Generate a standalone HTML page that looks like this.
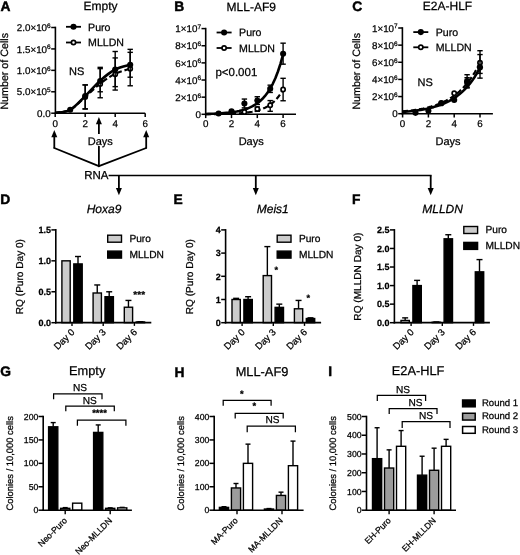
<!DOCTYPE html>
<html><head><meta charset="utf-8"><title>Figure</title>
<style>
html,body{margin:0;padding:0;background:#fff;}
svg{display:block;will-change:transform;font-family:'Liberation Sans', Arial, sans-serif;}
text{fill:#000;stroke:#000;stroke-width:0.25px;text-rendering:geometricPrecision;}
</style></head><body>
<svg width="520" height="555" viewBox="0 0 520 555">
<rect x="0" y="0" width="520" height="555" fill="#fff"/>
<text x="0.60" y="11.20" font-size="13.8" text-anchor="start" font-weight="bold" font-style="normal" style="stroke-width:0.45px">A</text>
<text x="100.50" y="9.60" font-size="12" text-anchor="middle" font-weight="normal" font-style="normal" >Empty</text>
<line x1="55.40" y1="26.70" x2="55.40" y2="114.00" stroke="#000" stroke-width="1.6" />
<line x1="54.60" y1="113.20" x2="145.20" y2="113.20" stroke="#000" stroke-width="1.6" />
<line x1="51.20" y1="27.50" x2="55.40" y2="27.50" stroke="#000" stroke-width="1.5" />
<text x="50.70" y="31.20" font-size="9.8" text-anchor="end">2.0×10<tspan font-size="6.5" dy="-3.3">6</tspan></text>
<line x1="51.20" y1="48.92" x2="55.40" y2="48.92" stroke="#000" stroke-width="1.5" />
<text x="50.70" y="52.62" font-size="9.8" text-anchor="end">1.5×10<tspan font-size="6.5" dy="-3.3">6</tspan></text>
<line x1="51.20" y1="70.35" x2="55.40" y2="70.35" stroke="#000" stroke-width="1.5" />
<text x="50.70" y="74.05" font-size="9.8" text-anchor="end">1.0×10<tspan font-size="6.5" dy="-3.3">6</tspan></text>
<line x1="51.20" y1="91.78" x2="55.40" y2="91.78" stroke="#000" stroke-width="1.5" />
<text x="50.70" y="95.48" font-size="9.8" text-anchor="end">5.0×10<tspan font-size="6.5" dy="-3.3">5</tspan></text>
<line x1="51.20" y1="113.20" x2="55.40" y2="113.20" stroke="#000" stroke-width="1.5" />
<text x="50.70" y="116.90" font-size="9.8" text-anchor="end" font-weight="normal" font-style="normal" >0.0</text>
<line x1="55.20" y1="113.20" x2="55.20" y2="117.00" stroke="#000" stroke-width="1.5" />
<text x="55.20" y="126.80" font-size="9.8" text-anchor="middle" font-weight="normal" font-style="normal" >0</text>
<line x1="85.20" y1="113.20" x2="85.20" y2="117.00" stroke="#000" stroke-width="1.5" />
<text x="85.20" y="126.80" font-size="9.8" text-anchor="middle" font-weight="normal" font-style="normal" >2</text>
<line x1="115.20" y1="113.20" x2="115.20" y2="117.00" stroke="#000" stroke-width="1.5" />
<text x="115.20" y="126.80" font-size="9.8" text-anchor="middle" font-weight="normal" font-style="normal" >4</text>
<line x1="145.20" y1="113.20" x2="145.20" y2="117.00" stroke="#000" stroke-width="1.5" />
<text x="145.20" y="126.80" font-size="9.8" text-anchor="middle" font-weight="normal" font-style="normal" >6</text>
<text x="100.30" y="145.20" font-size="11" text-anchor="middle" font-weight="normal" font-style="normal" >Days</text>
<text x="8.20" y="71.30" font-size="10.7" text-anchor="middle" font-weight="normal" font-style="normal" transform="rotate(-90 8.20 71.30)" >Number of Cells</text>
<path d="M55.20,112.77 C57.70,112.27 65.20,112.41 70.20,109.77 C75.20,107.13 80.20,101.27 85.20,96.92 C90.20,92.56 95.20,87.49 100.20,83.63 C105.20,79.78 110.20,76.28 115.20,73.78 C120.20,71.28 127.70,69.49 130.20,68.64" fill="none" stroke="#000" stroke-width="2.2" stroke-dasharray="5.5 2.8" stroke-linecap="butt"/>
<path d="M55.20,112.77 C57.70,112.27 65.20,112.56 70.20,109.77 C75.20,106.99 80.20,100.92 85.20,96.06 C90.20,91.20 95.20,85.06 100.20,80.63 C105.20,76.21 110.20,72.14 115.20,69.49 C120.20,66.85 127.70,65.57 130.20,64.78" fill="none" stroke="#000" stroke-width="2.6" stroke-linecap="butt"/>
<line x1="85.20" y1="84.92" x2="85.20" y2="108.92" stroke="#000" stroke-width="1.4" />
<line x1="82.50" y1="84.92" x2="87.90" y2="84.92" stroke="#000" stroke-width="1.4" />
<line x1="82.50" y1="108.92" x2="87.90" y2="108.92" stroke="#000" stroke-width="1.4" />
<circle cx="85.20" cy="96.92" r="2.1" fill="#fff" stroke="#000" stroke-width="1.7"/>
<line x1="100.20" y1="68.64" x2="100.20" y2="97.77" stroke="#000" stroke-width="1.4" />
<line x1="97.50" y1="68.64" x2="102.90" y2="68.64" stroke="#000" stroke-width="1.4" />
<line x1="97.50" y1="97.77" x2="102.90" y2="97.77" stroke="#000" stroke-width="1.4" />
<circle cx="100.20" cy="84.06" r="2.1" fill="#fff" stroke="#000" stroke-width="1.7"/>
<line x1="115.20" y1="57.92" x2="115.20" y2="90.06" stroke="#000" stroke-width="1.4" />
<line x1="112.50" y1="57.92" x2="117.90" y2="57.92" stroke="#000" stroke-width="1.4" />
<line x1="112.50" y1="90.06" x2="117.90" y2="90.06" stroke="#000" stroke-width="1.4" />
<circle cx="115.20" cy="74.21" r="2.1" fill="#fff" stroke="#000" stroke-width="1.7"/>
<line x1="130.20" y1="52.35" x2="130.20" y2="85.78" stroke="#000" stroke-width="1.4" />
<line x1="127.50" y1="52.35" x2="132.90" y2="52.35" stroke="#000" stroke-width="1.4" />
<line x1="127.50" y1="85.78" x2="132.90" y2="85.78" stroke="#000" stroke-width="1.4" />
<circle cx="130.20" cy="68.64" r="2.1" fill="#fff" stroke="#000" stroke-width="1.7"/>
<circle cx="70.20" cy="109.77" r="3.05" fill="#000" stroke="#000" stroke-width="0"/>
<line x1="85.20" y1="84.92" x2="85.20" y2="108.92" stroke="#000" stroke-width="1.4" />
<line x1="82.50" y1="84.92" x2="87.90" y2="84.92" stroke="#000" stroke-width="1.4" />
<line x1="82.50" y1="108.92" x2="87.90" y2="108.92" stroke="#000" stroke-width="1.4" />
<circle cx="85.20" cy="96.06" r="3.05" fill="#000" stroke="#000" stroke-width="0"/>
<line x1="100.20" y1="67.35" x2="100.20" y2="91.78" stroke="#000" stroke-width="1.4" />
<line x1="97.50" y1="67.35" x2="102.90" y2="67.35" stroke="#000" stroke-width="1.4" />
<line x1="97.50" y1="91.78" x2="102.90" y2="91.78" stroke="#000" stroke-width="1.4" />
<circle cx="100.20" cy="81.06" r="3.05" fill="#000" stroke="#000" stroke-width="0"/>
<line x1="115.20" y1="51.50" x2="115.20" y2="86.63" stroke="#000" stroke-width="1.4" />
<line x1="112.50" y1="51.50" x2="117.90" y2="51.50" stroke="#000" stroke-width="1.4" />
<line x1="112.50" y1="86.63" x2="117.90" y2="86.63" stroke="#000" stroke-width="1.4" />
<circle cx="115.20" cy="69.49" r="3.05" fill="#000" stroke="#000" stroke-width="0"/>
<line x1="130.20" y1="49.35" x2="130.20" y2="77.21" stroke="#000" stroke-width="1.4" />
<line x1="127.50" y1="49.35" x2="132.90" y2="49.35" stroke="#000" stroke-width="1.4" />
<line x1="127.50" y1="77.21" x2="132.90" y2="77.21" stroke="#000" stroke-width="1.4" />
<circle cx="130.20" cy="64.78" r="3.05" fill="#000" stroke="#000" stroke-width="0"/>
<line x1="66.00" y1="26.80" x2="81.00" y2="26.80" stroke="#000" stroke-width="1.8" />
<circle cx="73.50" cy="26.80" r="3.05" fill="#000" stroke="#000" stroke-width="0"/>
<text x="88.10" y="30.50" font-size="10.6" text-anchor="start" font-weight="normal" font-style="normal" >Puro</text>
<line x1="66.00" y1="42.50" x2="81.00" y2="42.50" stroke="#000" stroke-width="1.8" />
<circle cx="73.50" cy="42.50" r="2.1" fill="#fff" stroke="#000" stroke-width="1.7"/>
<text x="88.10" y="46.20" font-size="10.6" text-anchor="start" font-weight="normal" font-style="normal" >MLLDN</text>
<text x="69.00" y="74.60" font-size="11" text-anchor="start" font-weight="normal" font-style="normal" >NS</text>
<text x="174.30" y="10.70" font-size="13.8" text-anchor="start" font-weight="bold" font-style="normal" style="stroke-width:0.45px">B</text>
<text x="251.30" y="10.70" font-size="12" text-anchor="middle" font-weight="normal" font-style="normal" >MLL-AF9</text>
<line x1="205.70" y1="27.80" x2="205.70" y2="115.10" stroke="#000" stroke-width="1.6" />
<line x1="204.90" y1="114.30" x2="296.00" y2="114.30" stroke="#000" stroke-width="1.6" />
<line x1="201.50" y1="28.60" x2="205.70" y2="28.60" stroke="#000" stroke-width="1.5" />
<text x="201.00" y="32.30" font-size="9.8" text-anchor="end">1×10<tspan font-size="6.5" dy="-3.3">7</tspan></text>
<line x1="201.50" y1="45.74" x2="205.70" y2="45.74" stroke="#000" stroke-width="1.5" />
<text x="201.00" y="49.44" font-size="9.8" text-anchor="end">8×10<tspan font-size="6.5" dy="-3.3">6</tspan></text>
<line x1="201.50" y1="62.88" x2="205.70" y2="62.88" stroke="#000" stroke-width="1.5" />
<text x="201.00" y="66.58" font-size="9.8" text-anchor="end">6×10<tspan font-size="6.5" dy="-3.3">6</tspan></text>
<line x1="201.50" y1="80.02" x2="205.70" y2="80.02" stroke="#000" stroke-width="1.5" />
<text x="201.00" y="83.72" font-size="9.8" text-anchor="end">4×10<tspan font-size="6.5" dy="-3.3">6</tspan></text>
<line x1="201.50" y1="97.16" x2="205.70" y2="97.16" stroke="#000" stroke-width="1.5" />
<text x="201.00" y="100.86" font-size="9.8" text-anchor="end">2×10<tspan font-size="6.5" dy="-3.3">6</tspan></text>
<line x1="201.50" y1="114.30" x2="205.70" y2="114.30" stroke="#000" stroke-width="1.5" />
<text x="201.00" y="118.00" font-size="9.8" text-anchor="end" font-weight="normal" font-style="normal" >0</text>
<line x1="205.70" y1="114.30" x2="205.70" y2="118.10" stroke="#000" stroke-width="1.5" />
<text x="205.70" y="126.80" font-size="9.8" text-anchor="middle" font-weight="normal" font-style="normal" >0</text>
<line x1="231.50" y1="114.30" x2="231.50" y2="118.10" stroke="#000" stroke-width="1.5" />
<text x="231.50" y="126.80" font-size="9.8" text-anchor="middle" font-weight="normal" font-style="normal" >2</text>
<line x1="257.30" y1="114.30" x2="257.30" y2="118.10" stroke="#000" stroke-width="1.5" />
<text x="257.30" y="126.80" font-size="9.8" text-anchor="middle" font-weight="normal" font-style="normal" >4</text>
<line x1="283.10" y1="114.30" x2="283.10" y2="118.10" stroke="#000" stroke-width="1.5" />
<text x="283.10" y="126.80" font-size="9.8" text-anchor="middle" font-weight="normal" font-style="normal" >6</text>
<text x="251.20" y="145.20" font-size="11" text-anchor="middle" font-weight="normal" font-style="normal" >Days</text>
<polyline points="205.70,114.22 208.28,114.20 210.86,114.18 213.44,114.15 216.02,114.12 218.60,114.09 221.18,114.04 223.76,113.99 226.34,113.92 228.92,113.84 231.50,113.74 234.08,113.63 236.66,113.49 239.24,113.32 241.82,113.11 244.40,112.86 246.98,112.56 249.56,112.20 252.14,111.76 254.72,111.23 257.30,110.58 259.88,109.81 262.46,108.87 265.04,107.73 267.62,106.35 270.20,104.69 272.78,102.68 275.36,100.25 277.94,97.31 280.52,93.75 283.10,89.46" fill="none" stroke="#000" stroke-width="2.2" stroke-dasharray="5.5 2.8" stroke-linejoin="round"/>
<polyline points="205.70,113.93 208.28,113.86 210.86,113.78 213.44,113.68 216.02,113.57 218.60,113.43 221.18,113.27 223.76,113.08 226.34,112.85 228.92,112.59 231.50,112.27 234.08,111.90 236.66,111.45 239.24,110.93 241.82,110.31 244.40,109.57 246.98,108.69 249.56,107.66 252.14,106.43 254.72,104.98 257.30,103.26 259.88,101.23 262.46,98.81 265.04,95.95 267.62,92.57 270.20,88.55 272.78,83.80 275.36,78.17 277.94,71.50 280.52,63.60 283.10,54.24" fill="none" stroke="#000" stroke-width="2.6" stroke-linejoin="round"/>
<circle cx="244.40" cy="111.99" r="2.1" fill="#fff" stroke="#000" stroke-width="1.7"/>
<line x1="257.30" y1="107.02" x2="257.30" y2="111.30" stroke="#000" stroke-width="1.4" />
<line x1="254.60" y1="107.02" x2="260.00" y2="107.02" stroke="#000" stroke-width="1.4" />
<line x1="254.60" y1="111.30" x2="260.00" y2="111.30" stroke="#000" stroke-width="1.4" />
<circle cx="257.30" cy="108.99" r="2.1" fill="#fff" stroke="#000" stroke-width="1.7"/>
<line x1="270.20" y1="100.59" x2="270.20" y2="111.30" stroke="#000" stroke-width="1.4" />
<line x1="267.50" y1="100.59" x2="272.90" y2="100.59" stroke="#000" stroke-width="1.4" />
<line x1="267.50" y1="111.30" x2="272.90" y2="111.30" stroke="#000" stroke-width="1.4" />
<circle cx="270.20" cy="105.30" r="2.1" fill="#fff" stroke="#000" stroke-width="1.7"/>
<line x1="283.10" y1="78.31" x2="283.10" y2="100.76" stroke="#000" stroke-width="1.4" />
<line x1="280.40" y1="78.31" x2="285.80" y2="78.31" stroke="#000" stroke-width="1.4" />
<line x1="280.40" y1="100.76" x2="285.80" y2="100.76" stroke="#000" stroke-width="1.4" />
<circle cx="283.10" cy="89.45" r="2.1" fill="#fff" stroke="#000" stroke-width="1.7"/>
<circle cx="218.60" cy="113.44" r="3.05" fill="#000" stroke="#000" stroke-width="0"/>
<circle cx="231.50" cy="111.30" r="3.05" fill="#000" stroke="#000" stroke-width="0"/>
<line x1="244.40" y1="99.05" x2="244.40" y2="107.87" stroke="#000" stroke-width="1.4" />
<line x1="241.70" y1="99.05" x2="247.10" y2="99.05" stroke="#000" stroke-width="1.4" />
<line x1="241.70" y1="107.87" x2="247.10" y2="107.87" stroke="#000" stroke-width="1.4" />
<circle cx="244.40" cy="103.59" r="3.05" fill="#000" stroke="#000" stroke-width="0"/>
<line x1="257.30" y1="96.73" x2="257.30" y2="104.44" stroke="#000" stroke-width="1.4" />
<line x1="254.60" y1="96.73" x2="260.00" y2="96.73" stroke="#000" stroke-width="1.4" />
<line x1="254.60" y1="104.44" x2="260.00" y2="104.44" stroke="#000" stroke-width="1.4" />
<circle cx="257.30" cy="100.59" r="3.05" fill="#000" stroke="#000" stroke-width="0"/>
<line x1="270.20" y1="85.16" x2="270.20" y2="92.45" stroke="#000" stroke-width="1.4" />
<line x1="267.50" y1="85.16" x2="272.90" y2="85.16" stroke="#000" stroke-width="1.4" />
<line x1="267.50" y1="92.45" x2="272.90" y2="92.45" stroke="#000" stroke-width="1.4" />
<circle cx="270.20" cy="88.76" r="3.05" fill="#000" stroke="#000" stroke-width="0"/>
<line x1="283.10" y1="43.17" x2="283.10" y2="64.17" stroke="#000" stroke-width="1.4" />
<line x1="280.40" y1="43.17" x2="285.80" y2="43.17" stroke="#000" stroke-width="1.4" />
<line x1="280.40" y1="64.17" x2="285.80" y2="64.17" stroke="#000" stroke-width="1.4" />
<circle cx="283.10" cy="53.71" r="3.05" fill="#000" stroke="#000" stroke-width="0"/>
<line x1="216.60" y1="32.50" x2="231.60" y2="32.50" stroke="#000" stroke-width="1.8" />
<circle cx="224.10" cy="32.50" r="3.05" fill="#000" stroke="#000" stroke-width="0"/>
<text x="239.10" y="36.20" font-size="10.6" text-anchor="start" font-weight="normal" font-style="normal" >Puro</text>
<line x1="216.60" y1="48.00" x2="231.60" y2="48.00" stroke="#000" stroke-width="1.8" />
<circle cx="224.10" cy="48.00" r="2.1" fill="#fff" stroke="#000" stroke-width="1.7"/>
<text x="239.10" y="51.70" font-size="10.6" text-anchor="start" font-weight="normal" font-style="normal" >MLLDN</text>
<text x="215.40" y="75.80" font-size="11.5" text-anchor="start" font-weight="normal" font-style="normal" >p&lt;0.001</text>
<text x="352.30" y="11.20" font-size="13.8" text-anchor="start" font-weight="bold" font-style="normal" style="stroke-width:0.45px">C</text>
<text x="447.50" y="10.40" font-size="12" text-anchor="middle" font-weight="normal" font-style="normal" >E2A-HLF</text>
<line x1="402.40" y1="27.20" x2="402.40" y2="114.50" stroke="#000" stroke-width="1.6" />
<line x1="401.60" y1="113.70" x2="492.90" y2="113.70" stroke="#000" stroke-width="1.6" />
<line x1="398.20" y1="28.00" x2="402.40" y2="28.00" stroke="#000" stroke-width="1.5" />
<text x="397.70" y="31.70" font-size="9.8" text-anchor="end">1×10<tspan font-size="6.5" dy="-3.3">7</tspan></text>
<line x1="398.20" y1="45.14" x2="402.40" y2="45.14" stroke="#000" stroke-width="1.5" />
<text x="397.70" y="48.84" font-size="9.8" text-anchor="end">8×10<tspan font-size="6.5" dy="-3.3">6</tspan></text>
<line x1="398.20" y1="62.28" x2="402.40" y2="62.28" stroke="#000" stroke-width="1.5" />
<text x="397.70" y="65.98" font-size="9.8" text-anchor="end">6×10<tspan font-size="6.5" dy="-3.3">6</tspan></text>
<line x1="398.20" y1="79.42" x2="402.40" y2="79.42" stroke="#000" stroke-width="1.5" />
<text x="397.70" y="83.12" font-size="9.8" text-anchor="end">4×10<tspan font-size="6.5" dy="-3.3">6</tspan></text>
<line x1="398.20" y1="96.56" x2="402.40" y2="96.56" stroke="#000" stroke-width="1.5" />
<text x="397.70" y="100.26" font-size="9.8" text-anchor="end">2×10<tspan font-size="6.5" dy="-3.3">6</tspan></text>
<line x1="398.20" y1="113.70" x2="402.40" y2="113.70" stroke="#000" stroke-width="1.5" />
<text x="397.70" y="117.40" font-size="9.8" text-anchor="end" font-weight="normal" font-style="normal" >0</text>
<line x1="402.60" y1="113.70" x2="402.60" y2="117.50" stroke="#000" stroke-width="1.5" />
<text x="402.60" y="126.80" font-size="9.8" text-anchor="middle" font-weight="normal" font-style="normal" >0</text>
<line x1="428.40" y1="113.70" x2="428.40" y2="117.50" stroke="#000" stroke-width="1.5" />
<text x="428.40" y="126.80" font-size="9.8" text-anchor="middle" font-weight="normal" font-style="normal" >2</text>
<line x1="454.20" y1="113.70" x2="454.20" y2="117.50" stroke="#000" stroke-width="1.5" />
<text x="454.20" y="126.80" font-size="9.8" text-anchor="middle" font-weight="normal" font-style="normal" >4</text>
<line x1="480.00" y1="113.70" x2="480.00" y2="117.50" stroke="#000" stroke-width="1.5" />
<text x="480.00" y="126.80" font-size="9.8" text-anchor="middle" font-weight="normal" font-style="normal" >6</text>
<text x="448.00" y="145.20" font-size="11" text-anchor="middle" font-weight="normal" font-style="normal" >Days</text>
<text x="360.50" y="71.30" font-size="10.7" text-anchor="middle" font-weight="normal" font-style="normal" transform="rotate(-90 360.50 71.30)" >Number of Cells</text>
<polyline points="402.60,111.45 405.18,111.20 407.76,110.92 410.34,110.62 412.92,110.28 415.50,109.91 418.08,109.49 420.66,109.03 423.24,108.52 425.82,107.95 428.40,107.32 430.98,106.62 433.56,105.85 436.14,104.99 438.72,104.03 441.30,102.97 443.88,101.80 446.46,100.49 449.04,99.05 451.62,97.44 454.20,95.66 456.78,93.68 459.36,91.49 461.94,89.05 464.52,86.35 467.10,83.35 469.68,80.03 472.26,76.34 474.84,72.24 477.42,67.70 480.00,62.66" fill="none" stroke="#000" stroke-width="2.2" stroke-dasharray="5.5 2.8" stroke-linejoin="round"/>
<polyline points="402.60,111.90 405.18,111.70 407.76,111.47 410.34,111.21 412.92,110.93 415.50,110.61 418.08,110.26 420.66,109.87 423.24,109.43 425.82,108.94 428.40,108.40 430.98,107.80 433.56,107.12 436.14,106.37 438.72,105.54 441.30,104.61 443.88,103.57 446.46,102.41 449.04,101.13 451.62,99.69 454.20,98.09 456.78,96.31 459.36,94.33 461.94,92.12 464.52,89.66 467.10,86.92 469.68,83.87 472.26,80.46 474.84,76.67 477.42,72.45 480.00,67.75" fill="none" stroke="#000" stroke-width="2.6" stroke-linejoin="round"/>
<circle cx="441.30" cy="103.42" r="2.1" fill="#fff" stroke="#000" stroke-width="1.7"/>
<circle cx="454.20" cy="93.13" r="2.1" fill="#fff" stroke="#000" stroke-width="1.7"/>
<line x1="467.10" y1="77.71" x2="467.10" y2="87.99" stroke="#000" stroke-width="1.4" />
<line x1="464.40" y1="77.71" x2="469.80" y2="77.71" stroke="#000" stroke-width="1.4" />
<line x1="464.40" y1="87.99" x2="469.80" y2="87.99" stroke="#000" stroke-width="1.4" />
<circle cx="467.10" cy="82.85" r="2.1" fill="#fff" stroke="#000" stroke-width="1.7"/>
<line x1="480.00" y1="50.71" x2="480.00" y2="73.42" stroke="#000" stroke-width="1.4" />
<line x1="477.30" y1="50.71" x2="482.70" y2="50.71" stroke="#000" stroke-width="1.4" />
<line x1="477.30" y1="73.42" x2="482.70" y2="73.42" stroke="#000" stroke-width="1.4" />
<circle cx="480.00" cy="62.71" r="2.1" fill="#fff" stroke="#000" stroke-width="1.7"/>
<circle cx="415.50" cy="112.84" r="3.05" fill="#000" stroke="#000" stroke-width="0"/>
<circle cx="428.40" cy="110.70" r="3.05" fill="#000" stroke="#000" stroke-width="0"/>
<circle cx="441.30" cy="102.99" r="3.05" fill="#000" stroke="#000" stroke-width="0"/>
<circle cx="454.20" cy="99.99" r="3.05" fill="#000" stroke="#000" stroke-width="0"/>
<line x1="467.10" y1="74.71" x2="467.10" y2="87.13" stroke="#000" stroke-width="1.4" />
<line x1="464.40" y1="74.71" x2="469.80" y2="74.71" stroke="#000" stroke-width="1.4" />
<line x1="464.40" y1="87.13" x2="469.80" y2="87.13" stroke="#000" stroke-width="1.4" />
<circle cx="467.10" cy="81.13" r="3.05" fill="#000" stroke="#000" stroke-width="0"/>
<line x1="480.00" y1="54.57" x2="480.00" y2="78.13" stroke="#000" stroke-width="1.4" />
<line x1="477.30" y1="54.57" x2="482.70" y2="54.57" stroke="#000" stroke-width="1.4" />
<line x1="477.30" y1="78.13" x2="482.70" y2="78.13" stroke="#000" stroke-width="1.4" />
<circle cx="480.00" cy="67.42" r="3.05" fill="#000" stroke="#000" stroke-width="0"/>
<line x1="413.30" y1="32.10" x2="428.30" y2="32.10" stroke="#000" stroke-width="1.8" />
<circle cx="420.80" cy="32.10" r="3.05" fill="#000" stroke="#000" stroke-width="0"/>
<text x="435.80" y="35.80" font-size="10.6" text-anchor="start" font-weight="normal" font-style="normal" >Puro</text>
<line x1="413.30" y1="47.30" x2="428.30" y2="47.30" stroke="#000" stroke-width="1.8" />
<circle cx="420.80" cy="47.30" r="2.1" fill="#fff" stroke="#000" stroke-width="1.7"/>
<text x="435.80" y="51.00" font-size="10.6" text-anchor="start" font-weight="normal" font-style="normal" >MLLDN</text>
<text x="417.50" y="86.30" font-size="11" text-anchor="start" font-weight="normal" font-style="normal" >NS</text>
<line x1="54.30" y1="148.40" x2="54.30" y2="136.30" stroke="#000" stroke-width="1.8" />
<polygon points="54.30,130.00 51.30,137.30 57.30,137.30" fill="#000"/>
<line x1="54.30" y1="148.00" x2="98.90" y2="166.20" stroke="#000" stroke-width="1.8" stroke-linecap="round"/>
<line x1="146.20" y1="148.40" x2="146.20" y2="136.30" stroke="#000" stroke-width="1.8" />
<polygon points="146.20,130.00 143.20,137.30 149.20,137.30" fill="#000"/>
<line x1="146.20" y1="148.00" x2="98.90" y2="166.20" stroke="#000" stroke-width="1.8" stroke-linecap="round"/>
<line x1="98.90" y1="133.90" x2="98.90" y2="123.30" stroke="#000" stroke-width="1.8" />
<polygon points="98.90,117.00 95.90,124.30 101.90,124.30" fill="#000"/>
<line x1="98.90" y1="146.00" x2="98.90" y2="166.40" stroke="#000" stroke-width="1.8" />
<text x="96.30" y="178.70" font-size="11.5" text-anchor="middle" font-weight="normal" font-style="normal" >RNA</text>
<line x1="108.60" y1="175.50" x2="431.60" y2="175.50" stroke="#000" stroke-width="1.6" />
<line x1="118.90" y1="175.50" x2="118.90" y2="189.00" stroke="#000" stroke-width="1.8" />
<polygon points="118.90,195.30 115.90,188.00 121.90,188.00" fill="#000"/>
<line x1="255.80" y1="175.50" x2="255.80" y2="189.00" stroke="#000" stroke-width="1.8" />
<polygon points="255.80,195.30 252.80,188.00 258.80,188.00" fill="#000"/>
<line x1="430.70" y1="175.50" x2="430.70" y2="189.00" stroke="#000" stroke-width="1.8" />
<polygon points="430.70,195.30 427.70,188.00 433.70,188.00" fill="#000"/>
<text x="0.30" y="204.00" font-size="13.8" text-anchor="start" font-weight="bold" font-style="normal" style="stroke-width:0.45px">D</text>
<text x="104.00" y="212.90" font-size="12" text-anchor="middle" font-weight="normal" font-style="italic" >Hoxa9</text>
<line x1="51.40" y1="322.70" x2="55.80" y2="322.70" stroke="#000" stroke-width="1.5" />
<text x="51.00" y="325.90" font-size="9" text-anchor="end" font-weight="bold" font-style="normal" >0.0</text>
<line x1="51.40" y1="291.77" x2="55.80" y2="291.77" stroke="#000" stroke-width="1.5" />
<text x="51.00" y="294.97" font-size="9" text-anchor="end" font-weight="bold" font-style="normal" >0.5</text>
<line x1="51.40" y1="260.83" x2="55.80" y2="260.83" stroke="#000" stroke-width="1.5" />
<text x="51.00" y="264.03" font-size="9" text-anchor="end" font-weight="bold" font-style="normal" >1.0</text>
<line x1="51.40" y1="229.90" x2="55.80" y2="229.90" stroke="#000" stroke-width="1.5" />
<text x="51.00" y="233.10" font-size="9" text-anchor="end" font-weight="bold" font-style="normal" >1.5</text>
<text x="22.80" y="276.60" font-size="10.1" text-anchor="middle" font-weight="normal" font-style="normal" transform="rotate(-90 22.80 276.60)" >RQ (Puro Day 0)</text>
<rect x="61.90" y="260.83" width="8.30" height="61.87" fill="#ccc" stroke="#000" stroke-width="1.4"/>
<line x1="78.00" y1="263.93" x2="78.00" y2="256.50" stroke="#000" stroke-width="1.4" />
<line x1="75.00" y1="256.50" x2="81.00" y2="256.50" stroke="#000" stroke-width="1.4" />
<rect x="73.80" y="263.93" width="8.40" height="58.77" fill="#000" stroke="#000" stroke-width="1.4"/>
<line x1="72.00" y1="322.70" x2="72.00" y2="325.90" stroke="#000" stroke-width="1.4" />
<text x="75.30" y="332.80" font-size="9.5" text-anchor="end" font-weight="normal" font-style="normal" transform="rotate(-45 75.30 332.80)" >Day 0</text>
<line x1="97.25" y1="293.00" x2="97.25" y2="284.96" stroke="#000" stroke-width="1.4" />
<line x1="94.25" y1="284.96" x2="100.25" y2="284.96" stroke="#000" stroke-width="1.4" />
<rect x="93.10" y="293.00" width="8.30" height="29.70" fill="#ccc" stroke="#000" stroke-width="1.4"/>
<line x1="109.20" y1="296.72" x2="109.20" y2="291.77" stroke="#000" stroke-width="1.4" />
<line x1="106.20" y1="291.77" x2="112.20" y2="291.77" stroke="#000" stroke-width="1.4" />
<rect x="105.00" y="296.72" width="8.40" height="25.98" fill="#000" stroke="#000" stroke-width="1.4"/>
<line x1="103.20" y1="322.70" x2="103.20" y2="325.90" stroke="#000" stroke-width="1.4" />
<text x="106.50" y="332.80" font-size="9.5" text-anchor="end" font-weight="normal" font-style="normal" transform="rotate(-45 106.50 332.80)" >Day 3</text>
<line x1="128.45" y1="307.23" x2="128.45" y2="300.43" stroke="#000" stroke-width="1.4" />
<line x1="125.45" y1="300.43" x2="131.45" y2="300.43" stroke="#000" stroke-width="1.4" />
<rect x="124.30" y="307.23" width="8.30" height="15.47" fill="#ccc" stroke="#000" stroke-width="1.4"/>
<line x1="140.40" y1="321.96" x2="140.40" y2="321.71" stroke="#000" stroke-width="1.4" />
<line x1="137.40" y1="321.71" x2="143.40" y2="321.71" stroke="#000" stroke-width="1.4" />
<rect x="136.20" y="321.96" width="8.40" height="0.74" fill="#000" stroke="#000" stroke-width="1.4"/>
<line x1="134.40" y1="322.70" x2="134.40" y2="325.90" stroke="#000" stroke-width="1.4" />
<text x="137.70" y="332.80" font-size="9.5" text-anchor="end" font-weight="normal" font-style="normal" transform="rotate(-45 137.70 332.80)" >Day 6</text>
<line x1="55.80" y1="229.10" x2="55.80" y2="323.50" stroke="#000" stroke-width="1.6" />
<line x1="55.00" y1="322.70" x2="151.30" y2="322.70" stroke="#000" stroke-width="1.7" />
<text x="139.20" y="298.40" font-size="10" text-anchor="middle" font-weight="bold" font-style="normal" >***</text>
<rect x="107.70" y="235.20" width="13.80" height="7.00" fill="#ccc" stroke="#000" stroke-width="1.4"/>
<text x="129.40" y="242.10" font-size="10.2" text-anchor="start" font-weight="normal" font-style="normal" >Puro</text>
<rect x="107.70" y="251.10" width="13.80" height="7.00" fill="#000" stroke="#000" stroke-width="1.4"/>
<text x="129.40" y="258.00" font-size="10.2" text-anchor="start" font-weight="normal" font-style="normal" >MLLDN</text>
<text x="173.60" y="204.00" font-size="13.8" text-anchor="start" font-weight="bold" font-style="normal" style="stroke-width:0.45px">E</text>
<text x="272.80" y="212.90" font-size="12" text-anchor="middle" font-weight="normal" font-style="italic" >Meis1</text>
<line x1="221.20" y1="322.70" x2="225.60" y2="322.70" stroke="#000" stroke-width="1.5" />
<text x="220.80" y="325.90" font-size="9" text-anchor="end" font-weight="bold" font-style="normal" >0</text>
<line x1="221.20" y1="299.50" x2="225.60" y2="299.50" stroke="#000" stroke-width="1.5" />
<text x="220.80" y="302.70" font-size="9" text-anchor="end" font-weight="bold" font-style="normal" >1</text>
<line x1="221.20" y1="276.30" x2="225.60" y2="276.30" stroke="#000" stroke-width="1.5" />
<text x="220.80" y="279.50" font-size="9" text-anchor="end" font-weight="bold" font-style="normal" >2</text>
<line x1="221.20" y1="253.10" x2="225.60" y2="253.10" stroke="#000" stroke-width="1.5" />
<text x="220.80" y="256.30" font-size="9" text-anchor="end" font-weight="bold" font-style="normal" >3</text>
<line x1="221.20" y1="229.90" x2="225.60" y2="229.90" stroke="#000" stroke-width="1.5" />
<text x="220.80" y="233.10" font-size="9" text-anchor="end" font-weight="bold" font-style="normal" >4</text>
<text x="192.60" y="276.60" font-size="10.1" text-anchor="middle" font-weight="normal" font-style="normal" transform="rotate(-90 192.60 276.60)" >RQ (Puro Day 0)</text>
<line x1="236.15" y1="299.50" x2="236.15" y2="298.34" stroke="#000" stroke-width="1.4" />
<line x1="233.15" y1="298.34" x2="239.15" y2="298.34" stroke="#000" stroke-width="1.4" />
<rect x="232.00" y="299.50" width="8.30" height="23.20" fill="#ccc" stroke="#000" stroke-width="1.4"/>
<line x1="248.10" y1="299.50" x2="248.10" y2="296.72" stroke="#000" stroke-width="1.4" />
<line x1="245.10" y1="296.72" x2="251.10" y2="296.72" stroke="#000" stroke-width="1.4" />
<rect x="243.90" y="299.50" width="8.40" height="23.20" fill="#000" stroke="#000" stroke-width="1.4"/>
<line x1="242.10" y1="322.70" x2="242.10" y2="325.90" stroke="#000" stroke-width="1.4" />
<text x="245.40" y="332.80" font-size="9.5" text-anchor="end" font-weight="normal" font-style="normal" transform="rotate(-45 245.40 332.80)" >Day 0</text>
<line x1="267.35" y1="275.60" x2="267.35" y2="246.60" stroke="#000" stroke-width="1.4" />
<line x1="264.35" y1="246.60" x2="270.35" y2="246.60" stroke="#000" stroke-width="1.4" />
<rect x="263.20" y="275.60" width="8.30" height="47.10" fill="#ccc" stroke="#000" stroke-width="1.4"/>
<line x1="279.30" y1="307.39" x2="279.30" y2="304.14" stroke="#000" stroke-width="1.4" />
<line x1="276.30" y1="304.14" x2="282.30" y2="304.14" stroke="#000" stroke-width="1.4" />
<rect x="275.10" y="307.39" width="8.40" height="15.31" fill="#000" stroke="#000" stroke-width="1.4"/>
<line x1="273.30" y1="322.70" x2="273.30" y2="325.90" stroke="#000" stroke-width="1.4" />
<text x="276.60" y="332.80" font-size="9.5" text-anchor="end" font-weight="normal" font-style="normal" transform="rotate(-45 276.60 332.80)" >Day 3</text>
<line x1="298.55" y1="308.78" x2="298.55" y2="300.43" stroke="#000" stroke-width="1.4" />
<line x1="295.55" y1="300.43" x2="301.55" y2="300.43" stroke="#000" stroke-width="1.4" />
<rect x="294.40" y="308.78" width="8.30" height="13.92" fill="#ccc" stroke="#000" stroke-width="1.4"/>
<line x1="310.50" y1="318.52" x2="310.50" y2="317.83" stroke="#000" stroke-width="1.4" />
<line x1="307.50" y1="317.83" x2="313.50" y2="317.83" stroke="#000" stroke-width="1.4" />
<rect x="306.30" y="318.52" width="8.40" height="4.18" fill="#000" stroke="#000" stroke-width="1.4"/>
<line x1="304.50" y1="322.70" x2="304.50" y2="325.90" stroke="#000" stroke-width="1.4" />
<text x="307.80" y="332.80" font-size="9.5" text-anchor="end" font-weight="normal" font-style="normal" transform="rotate(-45 307.80 332.80)" >Day 6</text>
<line x1="225.60" y1="229.10" x2="225.60" y2="323.50" stroke="#000" stroke-width="1.6" />
<line x1="224.80" y1="322.70" x2="321.10" y2="322.70" stroke="#000" stroke-width="1.7" />
<text x="276.40" y="273.40" font-size="9.2" text-anchor="middle" font-weight="bold" font-style="normal" >*</text>
<text x="308.20" y="300.90" font-size="9.2" text-anchor="middle" font-weight="bold" font-style="normal" >*</text>
<rect x="277.20" y="235.20" width="13.80" height="7.00" fill="#ccc" stroke="#000" stroke-width="1.4"/>
<text x="298.90" y="242.10" font-size="10.2" text-anchor="start" font-weight="normal" font-style="normal" >Puro</text>
<rect x="277.20" y="251.10" width="13.80" height="7.00" fill="#000" stroke="#000" stroke-width="1.4"/>
<text x="298.90" y="258.00" font-size="10.2" text-anchor="start" font-weight="normal" font-style="normal" >MLLDN</text>
<text x="352.00" y="204.00" font-size="13.8" text-anchor="start" font-weight="bold" font-style="normal" style="stroke-width:0.45px">F</text>
<text x="442.60" y="212.90" font-size="12" text-anchor="middle" font-weight="normal" font-style="italic" >MLLDN</text>
<line x1="390.00" y1="322.70" x2="394.40" y2="322.70" stroke="#000" stroke-width="1.5" />
<text x="389.60" y="325.90" font-size="9" text-anchor="end" font-weight="bold" font-style="normal" >0.0</text>
<line x1="390.00" y1="304.14" x2="394.40" y2="304.14" stroke="#000" stroke-width="1.5" />
<text x="389.60" y="307.34" font-size="9" text-anchor="end" font-weight="bold" font-style="normal" >0.5</text>
<line x1="390.00" y1="285.58" x2="394.40" y2="285.58" stroke="#000" stroke-width="1.5" />
<text x="389.60" y="288.78" font-size="9" text-anchor="end" font-weight="bold" font-style="normal" >1.0</text>
<line x1="390.00" y1="267.02" x2="394.40" y2="267.02" stroke="#000" stroke-width="1.5" />
<text x="389.60" y="270.22" font-size="9" text-anchor="end" font-weight="bold" font-style="normal" >1.5</text>
<line x1="390.00" y1="248.46" x2="394.40" y2="248.46" stroke="#000" stroke-width="1.5" />
<text x="389.60" y="251.66" font-size="9" text-anchor="end" font-weight="bold" font-style="normal" >2.0</text>
<line x1="390.00" y1="229.90" x2="394.40" y2="229.90" stroke="#000" stroke-width="1.5" />
<text x="389.60" y="233.10" font-size="9" text-anchor="end" font-weight="bold" font-style="normal" >2.5</text>
<text x="361.40" y="276.60" font-size="10.1" text-anchor="middle" font-weight="normal" font-style="normal" transform="rotate(-90 361.40 276.60)" >RQ (MLLDN Day 0)</text>
<line x1="405.15" y1="320.47" x2="405.15" y2="317.87" stroke="#000" stroke-width="1.4" />
<line x1="402.15" y1="317.87" x2="408.15" y2="317.87" stroke="#000" stroke-width="1.4" />
<rect x="401.00" y="320.47" width="8.30" height="2.23" fill="#ccc" stroke="#000" stroke-width="1.4"/>
<line x1="417.10" y1="285.58" x2="417.10" y2="280.38" stroke="#000" stroke-width="1.4" />
<line x1="414.10" y1="280.38" x2="420.10" y2="280.38" stroke="#000" stroke-width="1.4" />
<rect x="412.90" y="285.58" width="8.40" height="37.12" fill="#000" stroke="#000" stroke-width="1.4"/>
<line x1="411.10" y1="322.70" x2="411.10" y2="325.90" stroke="#000" stroke-width="1.4" />
<text x="414.40" y="332.80" font-size="9.5" text-anchor="end" font-weight="normal" font-style="normal" transform="rotate(-45 414.40 332.80)" >Day 0</text>
<line x1="436.35" y1="322.25" x2="436.35" y2="321.96" stroke="#000" stroke-width="1.4" />
<line x1="433.35" y1="321.96" x2="439.35" y2="321.96" stroke="#000" stroke-width="1.4" />
<rect x="432.20" y="322.25" width="8.30" height="0.45" fill="#ccc" stroke="#000" stroke-width="1.4"/>
<line x1="448.30" y1="238.81" x2="448.30" y2="234.73" stroke="#000" stroke-width="1.4" />
<line x1="445.30" y1="234.73" x2="451.30" y2="234.73" stroke="#000" stroke-width="1.4" />
<rect x="444.10" y="238.81" width="8.40" height="83.89" fill="#000" stroke="#000" stroke-width="1.4"/>
<line x1="442.30" y1="322.70" x2="442.30" y2="325.90" stroke="#000" stroke-width="1.4" />
<text x="445.60" y="332.80" font-size="9.5" text-anchor="end" font-weight="normal" font-style="normal" transform="rotate(-45 445.60 332.80)" >Day 3</text>
<rect x="463.40" y="322.70" width="8.30" height="0.00" fill="#ccc" stroke="#000" stroke-width="1.4"/>
<line x1="479.50" y1="271.85" x2="479.50" y2="259.60" stroke="#000" stroke-width="1.4" />
<line x1="476.50" y1="259.60" x2="482.50" y2="259.60" stroke="#000" stroke-width="1.4" />
<rect x="475.30" y="271.85" width="8.40" height="50.85" fill="#000" stroke="#000" stroke-width="1.4"/>
<line x1="473.50" y1="322.70" x2="473.50" y2="325.90" stroke="#000" stroke-width="1.4" />
<text x="476.80" y="332.80" font-size="9.5" text-anchor="end" font-weight="normal" font-style="normal" transform="rotate(-45 476.80 332.80)" >Day 6</text>
<line x1="394.40" y1="229.10" x2="394.40" y2="323.50" stroke="#000" stroke-width="1.6" />
<line x1="393.60" y1="322.70" x2="489.90" y2="322.70" stroke="#000" stroke-width="1.7" />
<rect x="463.80" y="226.50" width="13.80" height="7.00" fill="#ccc" stroke="#000" stroke-width="1.4"/>
<text x="485.50" y="233.40" font-size="10.2" text-anchor="start" font-weight="normal" font-style="normal" >Puro</text>
<rect x="463.80" y="242.40" width="13.80" height="7.00" fill="#000" stroke="#000" stroke-width="1.4"/>
<text x="485.50" y="249.30" font-size="10.2" text-anchor="start" font-weight="normal" font-style="normal" >MLLDN</text>
<text x="0.30" y="376.40" font-size="13.8" text-anchor="start" font-weight="bold" font-style="normal" style="stroke-width:0.45px">G</text>
<text x="87.20" y="375.40" font-size="12.8" text-anchor="middle" font-weight="normal" font-style="normal" >Empty</text>
<line x1="38.50" y1="510.20" x2="43.20" y2="510.20" stroke="#000" stroke-width="1.5" />
<text x="38.30" y="513.30" font-size="8.7" text-anchor="end" font-weight="normal" font-style="normal" >0</text>
<line x1="38.50" y1="486.77" x2="43.20" y2="486.77" stroke="#000" stroke-width="1.5" />
<text x="38.30" y="489.88" font-size="8.7" text-anchor="end" font-weight="normal" font-style="normal" >50</text>
<line x1="38.50" y1="463.35" x2="43.20" y2="463.35" stroke="#000" stroke-width="1.5" />
<text x="38.30" y="466.45" font-size="8.7" text-anchor="end" font-weight="normal" font-style="normal" >100</text>
<line x1="38.50" y1="439.93" x2="43.20" y2="439.93" stroke="#000" stroke-width="1.5" />
<text x="38.30" y="443.03" font-size="8.7" text-anchor="end" font-weight="normal" font-style="normal" >150</text>
<line x1="38.50" y1="416.50" x2="43.20" y2="416.50" stroke="#000" stroke-width="1.5" />
<text x="38.30" y="419.60" font-size="8.7" text-anchor="end" font-weight="normal" font-style="normal" >200</text>
<text x="13.00" y="463.30" font-size="9.4" text-anchor="middle" font-weight="normal" font-style="normal" transform="rotate(-90 13.00 463.30)" >Colonies / 10,000 cells</text>
<line x1="53.20" y1="426.81" x2="53.20" y2="422.59" stroke="#000" stroke-width="1.4" />
<line x1="50.70" y1="422.59" x2="55.70" y2="422.59" stroke="#000" stroke-width="1.4" />
<rect x="48.60" y="426.81" width="9.20" height="83.39" fill="#000" stroke="#000" stroke-width="1.4"/>
<line x1="65.20" y1="508.33" x2="65.20" y2="507.62" stroke="#000" stroke-width="1.4" />
<line x1="62.70" y1="507.62" x2="67.70" y2="507.62" stroke="#000" stroke-width="1.4" />
<rect x="60.60" y="508.33" width="9.20" height="1.87" fill="#9c9c9c" stroke="#000" stroke-width="1.4"/>
<rect x="72.60" y="503.17" width="9.20" height="7.03" fill="#fff" stroke="#000" stroke-width="1.4"/>
<line x1="65.20" y1="510.20" x2="65.20" y2="514.20" stroke="#000" stroke-width="1.4" />
<text x="67.60" y="521.20" font-size="8.6" text-anchor="end" font-weight="normal" font-style="normal" transform="rotate(-45 67.60 521.20)" >Neo-Puro</text>
<line x1="98.20" y1="432.43" x2="98.20" y2="424.93" stroke="#000" stroke-width="1.4" />
<line x1="95.70" y1="424.93" x2="100.70" y2="424.93" stroke="#000" stroke-width="1.4" />
<rect x="93.60" y="432.43" width="9.20" height="77.77" fill="#000" stroke="#000" stroke-width="1.4"/>
<line x1="110.20" y1="508.33" x2="110.20" y2="507.86" stroke="#000" stroke-width="1.4" />
<line x1="107.70" y1="507.86" x2="112.70" y2="507.86" stroke="#000" stroke-width="1.4" />
<rect x="105.60" y="508.33" width="9.20" height="1.87" fill="#9c9c9c" stroke="#000" stroke-width="1.4"/>
<line x1="122.20" y1="507.86" x2="122.20" y2="507.39" stroke="#000" stroke-width="1.4" />
<line x1="119.70" y1="507.39" x2="124.70" y2="507.39" stroke="#000" stroke-width="1.4" />
<rect x="117.60" y="507.86" width="9.20" height="2.34" fill="#fff" stroke="#000" stroke-width="1.4"/>
<line x1="110.20" y1="510.20" x2="110.20" y2="514.20" stroke="#000" stroke-width="1.4" />
<text x="112.60" y="521.20" font-size="8.6" text-anchor="end" font-weight="normal" font-style="normal" transform="rotate(-45 112.60 521.20)" >Neo-MLLDN</text>
<line x1="43.20" y1="415.75" x2="43.20" y2="511.00" stroke="#000" stroke-width="1.6" />
<line x1="42.40" y1="510.20" x2="131.90" y2="510.20" stroke="#000" stroke-width="1.6" />
<polyline points="53.60,399.20 53.60,393.80 102.00,393.80 102.00,399.20" fill="none" stroke="#000" stroke-width="1.25"/>
<text x="80.00" y="390.80" font-size="10.1" text-anchor="middle" font-weight="normal" font-style="normal" >NS</text>
<polyline points="65.80,411.30 65.80,406.10 114.30,406.10 114.30,411.30" fill="none" stroke="#000" stroke-width="1.25"/>
<text x="89.70" y="403.50" font-size="10.1" text-anchor="middle" font-weight="normal" font-style="normal" >NS</text>
<polyline points="77.40,425.80 77.40,420.00 125.90,420.00 125.90,425.80" fill="none" stroke="#000" stroke-width="1.25"/>
<text x="99.50" y="416.00" font-size="9.4" text-anchor="middle" font-weight="bold" font-style="normal" >****</text>
<text x="174.40" y="376.50" font-size="13.8" text-anchor="start" font-weight="bold" font-style="normal" style="stroke-width:0.45px">H</text>
<text x="262.00" y="376.20" font-size="12.8" text-anchor="middle" font-weight="normal" font-style="normal" >MLL-AF9</text>
<line x1="209.50" y1="510.20" x2="214.20" y2="510.20" stroke="#000" stroke-width="1.5" />
<text x="209.30" y="513.30" font-size="8.7" text-anchor="end" font-weight="normal" font-style="normal" >0</text>
<line x1="209.50" y1="486.77" x2="214.20" y2="486.77" stroke="#000" stroke-width="1.5" />
<text x="209.30" y="489.88" font-size="8.7" text-anchor="end" font-weight="normal" font-style="normal" >100</text>
<line x1="209.50" y1="463.35" x2="214.20" y2="463.35" stroke="#000" stroke-width="1.5" />
<text x="209.30" y="466.45" font-size="8.7" text-anchor="end" font-weight="normal" font-style="normal" >200</text>
<line x1="209.50" y1="439.93" x2="214.20" y2="439.93" stroke="#000" stroke-width="1.5" />
<text x="209.30" y="443.03" font-size="8.7" text-anchor="end" font-weight="normal" font-style="normal" >300</text>
<line x1="209.50" y1="416.50" x2="214.20" y2="416.50" stroke="#000" stroke-width="1.5" />
<text x="209.30" y="419.60" font-size="8.7" text-anchor="end" font-weight="normal" font-style="normal" >400</text>
<text x="184.00" y="463.30" font-size="9.4" text-anchor="middle" font-weight="normal" font-style="normal" transform="rotate(-90 184.00 463.30)" >Colonies / 10,000 cells</text>
<line x1="224.00" y1="507.39" x2="224.00" y2="506.69" stroke="#000" stroke-width="1.4" />
<line x1="221.50" y1="506.69" x2="226.50" y2="506.69" stroke="#000" stroke-width="1.4" />
<rect x="219.40" y="507.39" width="9.20" height="2.81" fill="#000" stroke="#000" stroke-width="1.4"/>
<line x1="236.00" y1="487.95" x2="236.00" y2="483.50" stroke="#000" stroke-width="1.4" />
<line x1="233.50" y1="483.50" x2="238.50" y2="483.50" stroke="#000" stroke-width="1.4" />
<rect x="231.40" y="487.95" width="9.20" height="22.25" fill="#9c9c9c" stroke="#000" stroke-width="1.4"/>
<line x1="248.00" y1="463.35" x2="248.00" y2="444.14" stroke="#000" stroke-width="1.4" />
<line x1="245.50" y1="444.14" x2="250.50" y2="444.14" stroke="#000" stroke-width="1.4" />
<rect x="243.40" y="463.35" width="9.20" height="46.85" fill="#fff" stroke="#000" stroke-width="1.4"/>
<line x1="237.00" y1="510.20" x2="237.00" y2="514.20" stroke="#000" stroke-width="1.4" />
<text x="238.40" y="521.20" font-size="8.6" text-anchor="end" font-weight="normal" font-style="normal" transform="rotate(-45 238.40 521.20)" >MA-Puro</text>
<line x1="269.00" y1="509.03" x2="269.00" y2="508.56" stroke="#000" stroke-width="1.4" />
<line x1="266.50" y1="508.56" x2="271.50" y2="508.56" stroke="#000" stroke-width="1.4" />
<rect x="264.40" y="509.03" width="9.20" height="1.17" fill="#000" stroke="#000" stroke-width="1.4"/>
<line x1="281.00" y1="495.44" x2="281.00" y2="492.16" stroke="#000" stroke-width="1.4" />
<line x1="278.50" y1="492.16" x2="283.50" y2="492.16" stroke="#000" stroke-width="1.4" />
<rect x="276.40" y="495.44" width="9.20" height="14.76" fill="#9c9c9c" stroke="#000" stroke-width="1.4"/>
<line x1="293.00" y1="465.69" x2="293.00" y2="441.10" stroke="#000" stroke-width="1.4" />
<line x1="290.50" y1="441.10" x2="295.50" y2="441.10" stroke="#000" stroke-width="1.4" />
<rect x="288.40" y="465.69" width="9.20" height="44.51" fill="#fff" stroke="#000" stroke-width="1.4"/>
<line x1="282.00" y1="510.20" x2="282.00" y2="514.20" stroke="#000" stroke-width="1.4" />
<text x="283.40" y="521.20" font-size="8.6" text-anchor="end" font-weight="normal" font-style="normal" transform="rotate(-45 283.40 521.20)" >MA-MLLDN</text>
<line x1="214.20" y1="415.75" x2="214.20" y2="511.00" stroke="#000" stroke-width="1.6" />
<line x1="213.40" y1="510.20" x2="303.60" y2="510.20" stroke="#000" stroke-width="1.6" />
<polyline points="223.20,405.70 223.20,400.40 271.10,400.40 271.10,405.70" fill="none" stroke="#000" stroke-width="1.25"/>
<text x="241.80" y="396.50" font-size="9.4" text-anchor="middle" font-weight="bold" font-style="normal" >*</text>
<polyline points="235.20,418.50 235.20,413.40 283.20,413.40 283.20,418.50" fill="none" stroke="#000" stroke-width="1.25"/>
<text x="254.40" y="408.70" font-size="9.4" text-anchor="middle" font-weight="bold" font-style="normal" >*</text>
<polyline points="247.20,432.20 247.20,426.10 295.40,426.10 295.40,432.20" fill="none" stroke="#000" stroke-width="1.25"/>
<text x="272.60" y="422.80" font-size="10.1" text-anchor="middle" font-weight="normal" font-style="normal" >NS</text>
<text x="328.30" y="376.40" font-size="13.8" text-anchor="start" font-weight="bold" font-style="normal" style="stroke-width:0.45px">I</text>
<text x="418.10" y="375.40" font-size="12.8" text-anchor="middle" font-weight="normal" font-style="normal" >E2A-HLF</text>
<line x1="361.80" y1="510.20" x2="366.50" y2="510.20" stroke="#000" stroke-width="1.5" />
<text x="361.60" y="513.30" font-size="8.7" text-anchor="end" font-weight="normal" font-style="normal" >0</text>
<line x1="361.80" y1="491.46" x2="366.50" y2="491.46" stroke="#000" stroke-width="1.5" />
<text x="361.60" y="494.56" font-size="8.7" text-anchor="end" font-weight="normal" font-style="normal" >100</text>
<line x1="361.80" y1="472.72" x2="366.50" y2="472.72" stroke="#000" stroke-width="1.5" />
<text x="361.60" y="475.82" font-size="8.7" text-anchor="end" font-weight="normal" font-style="normal" >200</text>
<line x1="361.80" y1="453.98" x2="366.50" y2="453.98" stroke="#000" stroke-width="1.5" />
<text x="361.60" y="457.08" font-size="8.7" text-anchor="end" font-weight="normal" font-style="normal" >300</text>
<line x1="361.80" y1="435.24" x2="366.50" y2="435.24" stroke="#000" stroke-width="1.5" />
<text x="361.60" y="438.34" font-size="8.7" text-anchor="end" font-weight="normal" font-style="normal" >400</text>
<line x1="361.80" y1="416.50" x2="366.50" y2="416.50" stroke="#000" stroke-width="1.5" />
<text x="361.60" y="419.60" font-size="8.7" text-anchor="end" font-weight="normal" font-style="normal" >500</text>
<text x="336.30" y="463.30" font-size="9.4" text-anchor="middle" font-weight="normal" font-style="normal" transform="rotate(-90 336.30 463.30)" >Colonies / 10,000 cells</text>
<line x1="377.10" y1="458.67" x2="377.10" y2="427.74" stroke="#000" stroke-width="1.4" />
<line x1="374.60" y1="427.74" x2="379.60" y2="427.74" stroke="#000" stroke-width="1.4" />
<rect x="372.50" y="458.67" width="9.20" height="51.53" fill="#000" stroke="#000" stroke-width="1.4"/>
<line x1="389.10" y1="468.03" x2="389.10" y2="449.86" stroke="#000" stroke-width="1.4" />
<line x1="386.60" y1="449.86" x2="391.60" y2="449.86" stroke="#000" stroke-width="1.4" />
<rect x="384.50" y="468.03" width="9.20" height="42.17" fill="#9c9c9c" stroke="#000" stroke-width="1.4"/>
<line x1="401.10" y1="446.30" x2="401.10" y2="430.56" stroke="#000" stroke-width="1.4" />
<line x1="398.60" y1="430.56" x2="403.60" y2="430.56" stroke="#000" stroke-width="1.4" />
<rect x="396.50" y="446.30" width="9.20" height="63.90" fill="#fff" stroke="#000" stroke-width="1.4"/>
<line x1="389.10" y1="510.20" x2="389.10" y2="514.20" stroke="#000" stroke-width="1.4" />
<text x="391.50" y="521.20" font-size="8.6" text-anchor="end" font-weight="normal" font-style="normal" transform="rotate(-45 391.50 521.20)" >EH-Puro</text>
<line x1="422.10" y1="475.16" x2="422.10" y2="456.23" stroke="#000" stroke-width="1.4" />
<line x1="419.60" y1="456.23" x2="424.60" y2="456.23" stroke="#000" stroke-width="1.4" />
<rect x="417.50" y="475.16" width="9.20" height="35.04" fill="#000" stroke="#000" stroke-width="1.4"/>
<line x1="434.10" y1="470.28" x2="434.10" y2="448.17" stroke="#000" stroke-width="1.4" />
<line x1="431.60" y1="448.17" x2="436.60" y2="448.17" stroke="#000" stroke-width="1.4" />
<rect x="429.50" y="470.28" width="9.20" height="39.92" fill="#9c9c9c" stroke="#000" stroke-width="1.4"/>
<line x1="446.10" y1="446.30" x2="446.10" y2="439.36" stroke="#000" stroke-width="1.4" />
<line x1="443.60" y1="439.36" x2="448.60" y2="439.36" stroke="#000" stroke-width="1.4" />
<rect x="441.50" y="446.30" width="9.20" height="63.90" fill="#fff" stroke="#000" stroke-width="1.4"/>
<line x1="434.10" y1="510.20" x2="434.10" y2="514.20" stroke="#000" stroke-width="1.4" />
<text x="436.50" y="521.20" font-size="8.6" text-anchor="end" font-weight="normal" font-style="normal" transform="rotate(-45 436.50 521.20)" >EH-MLLDN</text>
<line x1="366.50" y1="415.75" x2="366.50" y2="511.00" stroke="#000" stroke-width="1.6" />
<line x1="365.70" y1="510.20" x2="456.00" y2="510.20" stroke="#000" stroke-width="1.6" />
<polyline points="377.30,401.00 377.30,395.40 425.60,395.40 425.60,401.00" fill="none" stroke="#000" stroke-width="1.25"/>
<text x="403.00" y="392.90" font-size="10.1" text-anchor="middle" font-weight="normal" font-style="normal" >NS</text>
<polyline points="389.20,414.00 389.20,408.50 437.00,408.50 437.00,414.00" fill="none" stroke="#000" stroke-width="1.25"/>
<text x="415.60" y="405.90" font-size="10.1" text-anchor="middle" font-weight="normal" font-style="normal" >NS</text>
<polyline points="402.20,427.90 402.20,421.50 450.00,421.50 450.00,427.90" fill="none" stroke="#000" stroke-width="1.25"/>
<text x="426.00" y="419.30" font-size="10.1" text-anchor="middle" font-weight="normal" font-style="normal" >NS</text>
<rect x="462.60" y="400.00" width="12.60" height="6.80" fill="#000" stroke="#000" stroke-width="1.5"/>
<text x="481.90" y="406.10" font-size="9.6" text-anchor="start" font-weight="normal" font-style="normal" >Round 1</text>
<rect x="462.60" y="413.25" width="12.60" height="6.80" fill="#9c9c9c" stroke="#000" stroke-width="1.5"/>
<text x="481.90" y="419.35" font-size="9.6" text-anchor="start" font-weight="normal" font-style="normal" >Round 2</text>
<rect x="462.60" y="426.50" width="12.60" height="6.80" fill="#fff" stroke="#000" stroke-width="1.5"/>
<text x="481.90" y="432.60" font-size="9.6" text-anchor="start" font-weight="normal" font-style="normal" >Round 3</text>
</svg>
</body></html>
